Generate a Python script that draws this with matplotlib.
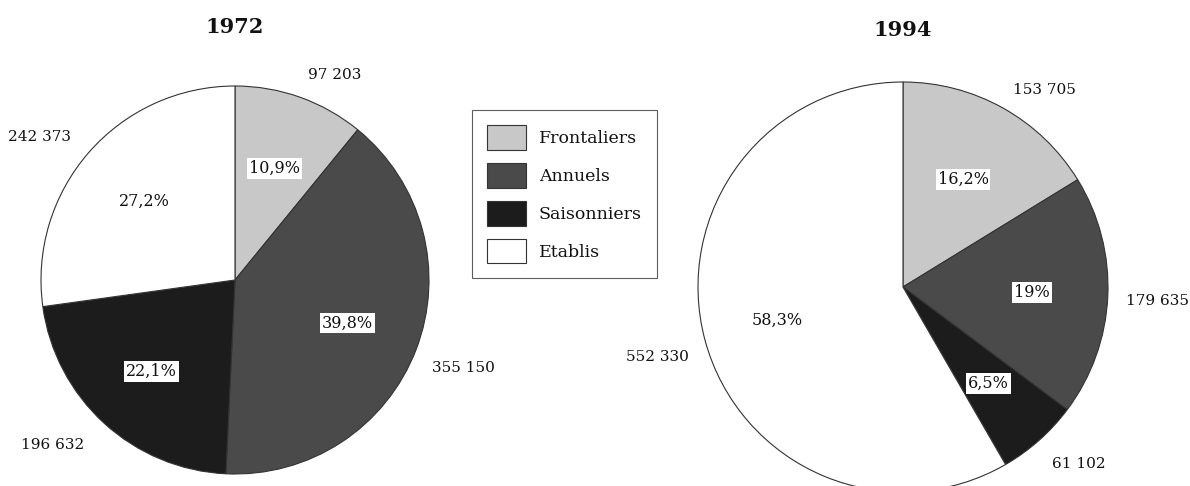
import matplotlib
matplotlib.use("Agg")
import matplotlib.pyplot as plt
import numpy as np

plt.rcParams['font.family'] = ['DejaVu Serif']

categories = ["Frontaliers", "Annuels", "Saisonniers", "Etablis"]
years = ["1972", "1994"]
values_1972 = [97203, 355150, 196632, 242373]
values_1994 = [153705, 179635, 61102, 552330]

colors = ["#c8c8c8", "#4a4a4a", "#1c1c1c", "#ffffff"]

W, H = 1190, 486
fig = plt.figure(figsize=(W / 100, H / 100), dpi=100)

# layout: (center x px, center y px from top, radius px)
layouts = [(235, 280, 194), (903, 287, 205)]
title_pos = [(235, 27), (903, 30)]
pct_radius = [[0.61, 0.62, 0.64, 0.62], [0.6, 0.63, 0.63, 0.635]]
label_dist = [[1.12, 1.11, 1.15, 1.12], [1.1, 1.09, 1.13, 1.10]]
label_nudge = [[0, -3, 0, 0], [0, -1, -1.6, 3]]

L = 1.3


def pct_text(v, total):
    p = round(100 * v / total, 1)
    s = f"{p:.1f}".replace(".", ",")
    if s.endswith(",0"):
        s = s[:-2]
    return s + "%"


first_wedges = None
for i, vals in enumerate([values_1972, values_1994]):
    cx, cy, R = layouts[i]
    size = 2 * L * R
    ax = fig.add_axes([(cx - L * R) / W, (H - cy - L * R) / H, size / W, size / H])
    total = sum(vals)
    wedges, _ = ax.pie(vals, colors=colors, startangle=90, counterclock=False,
                       wedgeprops=dict(edgecolor="#333333", linewidth=0.8),
                       radius=1.0)
    ax.set_xlim(-L, L)
    ax.set_ylim(-L, L)
    ax.set_aspect("equal")
    ax.axis("off")
    for w in wedges:
        w.set_clip_on(False)
    if first_wedges is None:
        first_wedges = wedges
    for j, (w, v) in enumerate(zip(wedges, vals)):
        mid = np.deg2rad((w.theta1 + w.theta2) / 2)
        r = pct_radius[i][j]
        ax.text(r * np.cos(mid), r * np.sin(mid), pct_text(v, total),
                ha="center", va="center", fontsize=11.5, color="#111111",
                bbox=dict(boxstyle="square,pad=0.12", fc="white", ec="none"))
        ld = label_dist[i][j]
        lm = mid + np.deg2rad(label_nudge[i][j])
        x, y = ld * np.cos(lm), ld * np.sin(lm)
        ax.text(x, y, f"{v:,}".replace(",", " "),
                ha="left" if x > 0 else "right", va="center",
                fontsize=11, color="#111111")
    tx, ty = title_pos[i]
    fig.text(tx / W, 1 - ty / H, years[i], ha="center", va="center",
             fontsize=15, fontweight="bold", color="#111111")

leg = fig.legend(first_wedges, categories, loc="upper left",
                 bbox_to_anchor=(472 / W, 1 - 110 / H), borderaxespad=0,
                 fontsize=12.5, handlelength=2.25, handleheight=1.83,
                 labelspacing=0.75, handletextpad=0.75, borderpad=0.85,
                 fancybox=False, frameon=True)
leg.get_frame().set_edgecolor("#333333")
leg.get_frame().set_linewidth(0.8)
for t in leg.get_texts():
    t.set_color("#111111")

fig.savefig("out.png", dpi=100, facecolor="white")
